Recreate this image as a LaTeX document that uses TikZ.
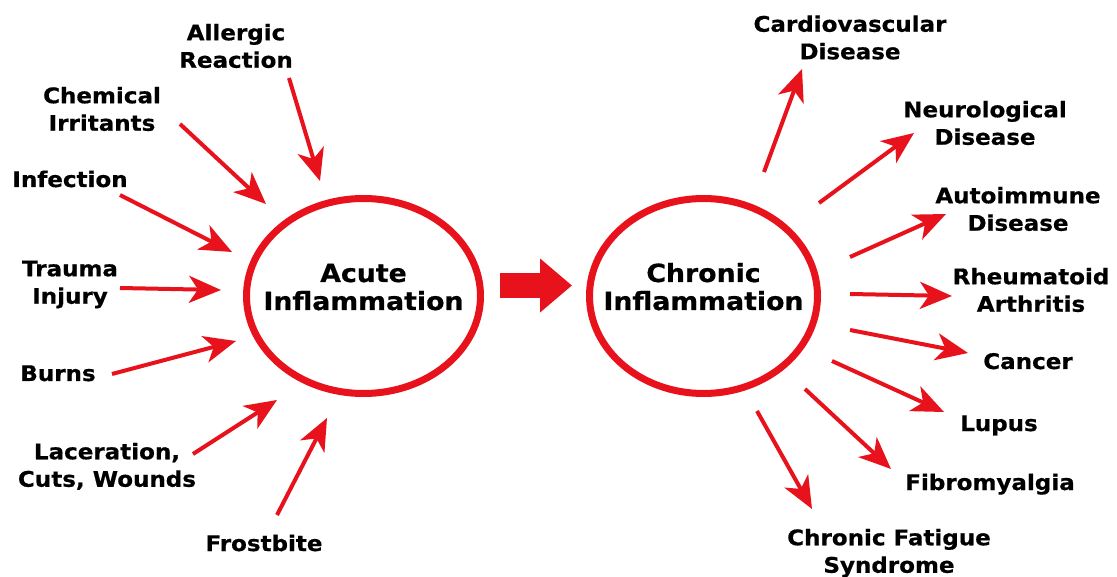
\documentclass[tikz,border=0pt]{standalone}
\usepackage{fontspec}
\setmainfont{DejaVu Sans}[FakeStretch=1.07, BoldFeatures={FakeBold=0.6}]
\usetikzlibrary{arrows.meta,shapes.geometric}
\definecolor{infred}{RGB}{232,18,28}
\newcommand\twol[2]{\rule{0pt}{20pt}#1\\#2\rule[-20pt]{0pt}{0pt}}
\newcommand\onel[1]{\rule[-20pt]{0pt}{40pt}#1}
\begin{document}
\begin{tikzpicture}[x=1pt,y=-1pt,
  lbl/.style={font=\bfseries\fontsize{21.5}{27.5}\selectfont, align=center, inner sep=0pt, text=black},
  bubble/.style={ellipse, draw=infred, line width=7pt, inner xsep=-40pt, inner ysep=0pt, align=center,
                 font=\bfseries\fontsize{25}{28}\selectfont, text=black},
  arr/.style={draw=infred, line width=4pt, -{Stealth[length=32pt,width=27pt,inset=9pt]}},
  bigarrow/.style={draw=infred, line width=25pt, -{Triangle[length=32pt,width=52pt]}}
]
\useasboundingbox (0,0) rectangle (1117,577);
\fill[white] (0,0) rectangle (1117,577);

% central ellipses
\node[bubble, minimum width=234pt, minimum height=195pt] (acute) at (363.5,296)
  {\twol{Acute}{Inflammation}};
\node[bubble, minimum width=228pt, minimum height=195pt] (chronic) at (703.5,296)
  {\twol{Chronic}{Inflammation}};
\draw[bigarrow] ([xshift=16pt,yshift=10.5pt]acute.east) -- ([xshift=-14pt,yshift=10.5pt]chronic.west);

% causes (left)
\node[lbl] (allergic)   at (236,54)    {\twol{Allergic}{Reaction}};
\node[lbl] (chemical)   at (102,117)   {\twol{Chemical}{Irritants}};
\node[lbl] (infection)  at (70,187)    {\onel{Infection}};
\node[lbl] (trauma)     at (70,290)    {\twol{Trauma}{Injury}};
\node[lbl] (burns)      at (58,381)    {\onel{Burns}};
\node[lbl] (laceration) at (107,473)   {\twol{Laceration,}{Cuts, Wounds}};
\node[lbl] (frostbite)  at (264,551)   {\onel{Frostbite}};

% consequences (right)
\node[lbl] (cardio)     at (850,45.5)  {\twol{Cardiovascular}{Disease}};
\node[lbl] (neuro)      at (985,131)   {\twol{Neurological}{Disease}};
\node[lbl] (autoimm)    at (1018,217)  {\twol{Autoimmune}{Disease}};
\node[lbl] (rheuma)     at (1031,298)  {\twol{Rheumatoid}{Arthritis}};
\node[lbl] (cancer)     at (1028,369)  {\onel{Cancer}};
\node[lbl] (lupus)      at (999,431)   {\onel{Lupus}};
\node[lbl] (fibro)      at (990,490)   {\onel{Fibromyalgia}};
\node[lbl] (cfs)        at (889,559)   {\twol{Chronic Fatigue}{Syndrome}};

% arrow end points
\coordinate (allergic-s) at (289,78);   \coordinate (allergic-t) at (320,181);
\coordinate (chemical-s) at (180,124);  \coordinate (chemical-t) at (266,204);
\coordinate (infection-s) at (120,195); \coordinate (infection-t) at (232,252);
\coordinate (trauma-s) at (120,288);    \coordinate (trauma-t) at (221,290);
\coordinate (burns-s) at (112,374);     \coordinate (burns-t) at (236,341);
\coordinate (laceration-s) at (193,454);\coordinate (laceration-t) at (277,400);
\coordinate (frostbite-s) at (277,515); \coordinate (frostbite-t) at (327,418);

\coordinate (cardio-s) at (764,172);    \coordinate (cardio-t) at (802,69);
\coordinate (neuro-s) at (819,203);     \coordinate (neuro-t) at (914,133);
\coordinate (autoimm-s) at (850,257);   \coordinate (autoimm-t) at (946,214);
\coordinate (rheuma-s) at (850,294);    \coordinate (rheuma-t) at (952,296);
\coordinate (cancer-s) at (850,330);    \coordinate (cancer-t) at (968,353);
\coordinate (lupus-s) at (832,361);     \coordinate (lupus-t) at (944,412);
\coordinate (fibro-s) at (805,389);     \coordinate (fibro-t) at (891,469);
\coordinate (cfs-s) at (757,411);       \coordinate (cfs-t) at (812,509);

\foreach \n in {allergic,chemical,infection,trauma,burns,laceration,frostbite,
                cardio,neuro,autoimm,rheuma,cancer,lupus,fibro,cfs}
  \draw[arr] (\n-s) -- (\n-t);
\end{tikzpicture}
\end{document}
